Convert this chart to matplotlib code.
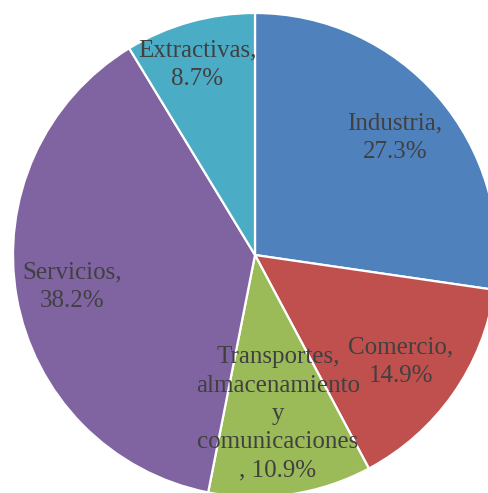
import matplotlib
matplotlib.use('Agg')
import matplotlib.pyplot as plt

# shares by sector, clockwise from 12 o'clock
sectors = ['Industria', 'Comercio', 'Transportes,\nalmacenamiento\ny\ncomunicaciones\n', 'Servicios', 'Extractivas']
shares = [27.3, 14.9, 10.9, 38.2, 8.7]
colors = ['#4F81BD', '#C0504D', '#9BBB59', '#8064A2', '#4BACC6']

# label anchor points (pixels from top-left)
label_px = [(395, 138), (401, 362), (278, 414), (72, 287), (197, 65)]

W, H = 488, 493
fig = plt.figure(figsize=(W / 100, H / 100), dpi=100)
ax = fig.add_axes([0, 0, 1, 1])
ax.set_xlim(0, W)
ax.set_ylim(0, H)
ax.set_aspect('equal')
ax.axis('off')

ax.pie(shares, colors=colors, startangle=90, counterclock=False,
       center=(255, H - 255), radius=242,
       wedgeprops=dict(edgecolor='white', linewidth=1.6))
ax.set_xlim(0, W)
ax.set_ylim(0, H)

for name, val, (px, py) in zip(sectors, shares, label_px):
    if name.endswith('\n'):
        txt = f'{name}, {val}%'
    else:
        txt = f'{name},\n{val}%'
    ax.text(px, H - py, txt, ha='center', va='center', color='#404040',
            fontsize=18, family='Liberation Serif', linespacing=1.38)

fig.savefig('out.png', dpi=100)
